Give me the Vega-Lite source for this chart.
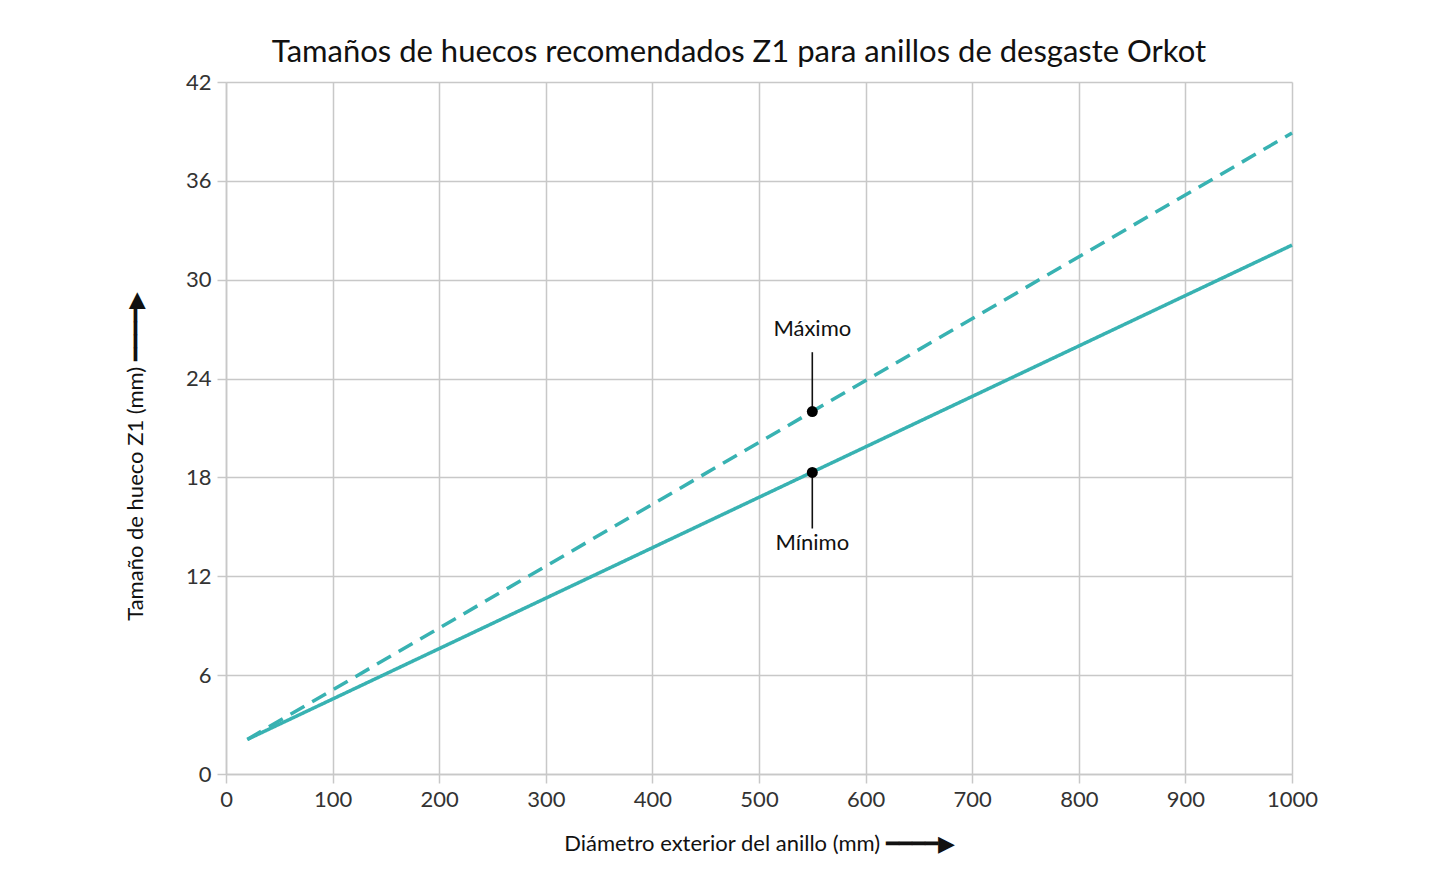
{
  "$schema": "https://vega.github.io/schema/vega-lite/v6.json",
  "width": 1066,
  "height": 692,
  "autosize": {"type": "none"},
  "padding": {"left": 226, "top": 82, "right": 154, "bottom": 105},
  "background": "white",
  "title": {
    "text": "Tamaños de huecos recomendados Z1 para anillos de desgaste Orkot",
    "font": "Lato",
    "fontSize": 31,
    "fontWeight": "normal",
    "color": "#111111",
    "offset": 2,
    "dx": -20
  },
  "datasets": {
    "lineas": [
      {"diametro": 20, "hueco": 2.1, "serie": "Máximo"},
      {"diametro": 1000, "hueco": 38.9, "serie": "Máximo"},
      {"diametro": 20, "hueco": 2.1, "serie": "Mínimo"},
      {"diametro": 1000, "hueco": 32.1, "serie": "Mínimo"}
    ],
    "puntos": [
      {"diametro": 550, "hueco": 22.0, "etiqueta": "Máximo", "ytexto": 27.0, "ylinea": 25.6},
      {"diametro": 550, "hueco": 18.3, "etiqueta": "Mínimo", "ytexto": 14.0, "ylinea": 14.9}
    ]
  },
  "layer": [
    {
      "data": {"name": "lineas"},
      "mark": {"type": "line", "color": "#38b2b2", "strokeWidth": 3.5, "clip": false},
      "encoding": {
        "x": {
          "field": "diametro",
          "type": "quantitative",
          "scale": {"domain": [0, 1000], "nice": false},
          "axis": {
            "values": [0, 100, 200, 300, 400, 500, 600, 700, 800, 900, 1000],
            "format": "d",
            "labelFlush": false,
            "title": "Diámetro exterior del anillo (mm)   ━━━━▶",
            "labelPadding": 6,
            "titlePadding": 23
          }
        },
        "y": {
          "field": "hueco",
          "type": "quantitative",
          "scale": {"domain": [0, 42], "nice": false},
          "axis": {
            "values": [0, 6, 12, 18, 24, 30, 36, 42],
            "title": "Tamaño de hueco Z1 (mm)   ━━━━▶",
            "labelPadding": 6,
            "labelFlush": false,
            "titlePadding": 38,
            "titleY": 374
          }
        },
        "detail": {"field": "serie"},
        "strokeDash": {
          "field": "serie",
          "type": "nominal",
          "scale": {"domain": ["Máximo", "Mínimo"], "range": [[16, 9], [1, 0]]},
          "legend": null
        }
      }
    },
    {
      "data": {"name": "puntos"},
      "mark": {"type": "rule", "color": "#111111", "strokeWidth": 1.6},
      "encoding": {
        "x": {"field": "diametro", "type": "quantitative"},
        "y": {"field": "ylinea", "type": "quantitative"},
        "y2": {"field": "hueco"}
      }
    },
    {
      "data": {"name": "puntos"},
      "mark": {"type": "circle", "color": "#000000", "size": 120, "opacity": 1},
      "encoding": {
        "x": {"field": "diametro", "type": "quantitative"},
        "y": {"field": "hueco", "type": "quantitative"}
      }
    },
    {
      "data": {"name": "puntos"},
      "mark": {"type": "text", "font": "Lato", "fontSize": 22, "color": "#111111", "baseline": "middle", "align": "center"},
      "encoding": {
        "x": {"field": "diametro", "type": "quantitative"},
        "y": {"field": "ytexto", "type": "quantitative"},
        "text": {"field": "etiqueta"}
      }
    }
  ],
  "config": {
    "view": {"stroke": null},
    "axis": {
      "gridColor": "#c8c8c8",
      "gridWidth": 1.5,
      "domainColor": "#c8c8c8",
      "domainWidth": 1.5,
      "tickColor": "#c8c8c8",
      "tickWidth": 1.5,
      "tickSize": 9,
      "labelFont": "Lato",
      "labelFontSize": 22,
      "labelColor": "#333333",
      "titleFont": "Lato",
      "titleFontSize": 22,
      "titleFontWeight": "normal",
      "titleColor": "#111111"
    }
  }
}
